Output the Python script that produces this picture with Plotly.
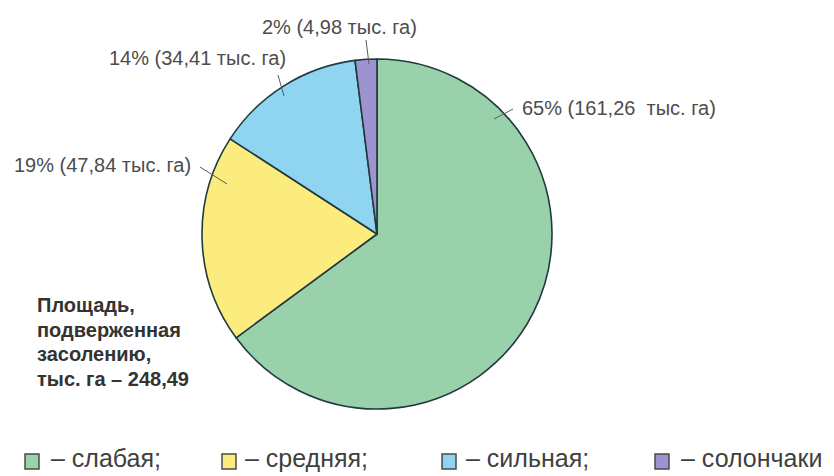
import plotly.graph_objects as go

# Degree of soil salinisation, thousand ha
categories = ["слабая", "средняя", "сильная", "солончаки"]
areas = [161.26, 47.84, 34.41, 4.98]
shares = [65, 19, 14, 2]
colors = ["#98d1aa", "#fcec7e", "#8fd4f1", "#9d93cf"]
total_label = ["Площадь,", "подверженная", "засолению,", "тыс. га – 248,49"]

W, H = 834, 476
FONT = "Liberation Sans, Arial, sans-serif"


def px(x):
    return x / W


def py(y):
    return 1 - y / H


fig = go.Figure(
    go.Pie(
        labels=categories,
        values=areas,
        sort=False,
        direction="clockwise",
        rotation=0,
        marker=dict(colors=colors, line=dict(color="#22393f", width=1.6)),
        textinfo="none",
        hoverinfo="label+value+percent",
        showlegend=False,
        domain=dict(x=[px(202), px(552)], y=[py(409), py(59)]),
    )
)


def fmt(v):
    return f"{v:.2f}".replace(".", ",")


# slice labels: (text x, text y, leader start, leader end)
label_layout = [
    (520, 108, (513, 109), (494, 119)),
    (12, 165, (200, 167), (227, 184)),
    (107, 58, (278, 75), (284, 96)),
    (260, 27, (366, 40), (369, 64)),
]

annotations = []
shapes = []
for i, (tx, ty, a, b) in enumerate(label_layout):
    gap = "\u00a0 " if i == 0 else " "
    text = f"{shares[i]}% ({fmt(areas[i])}{gap}тыс. га)"
    annotations.append(
        dict(
            x=px(tx), y=py(ty), xref="paper", yref="paper",
            text=text, showarrow=False, xanchor="left", yanchor="middle",
            font=dict(family=FONT, size=20, color="#4d4d4d"),
        )
    )
    shapes.append(
        dict(
            type="line", xref="paper", yref="paper",
            x0=px(a[0]), y0=py(a[1]), x1=px(b[0]), y1=py(b[1]),
            line=dict(color="#5a5a5a", width=1),
        )
    )

# total area note
for j, line in enumerate(total_label):
    annotations.append(
        dict(
            x=px(35), y=py(305 + 24.5 * j), xref="paper", yref="paper",
            text=f"<b>{line}</b>", showarrow=False, xanchor="left", yanchor="middle",
            font=dict(family=FONT, size=20, color="#333333"),
        )
    )

# legend row
legend_pos = [(25, 50), (222, 244), (442, 465), (655, 680)]
for i, (sx, tx) in enumerate(legend_pos):
    shapes.append(
        dict(
            type="rect", xref="paper", yref="paper",
            x0=px(sx), x1=px(sx + 14), y0=py(469), y1=py(454),
            fillcolor=colors[i], line=dict(color="#4a4a4a", width=1.5),
        )
    )
    suffix = "" if i == len(categories) - 1 else ";"
    annotations.append(
        dict(
            x=px(tx), y=py(458), xref="paper", yref="paper",
            text=f"– {categories[i]}{suffix}", showarrow=False,
            xanchor="left", yanchor="middle", borderpad=0,
            font=dict(family=FONT, size=25, color="#3f3f3f"),
        )
    )

fig.update_layout(
    width=W, height=H,
    margin=dict(l=0, r=0, t=0, b=0),
    paper_bgcolor="white", plot_bgcolor="white",
    annotations=annotations, shapes=shapes,
)

fig.write_html("out.html")
